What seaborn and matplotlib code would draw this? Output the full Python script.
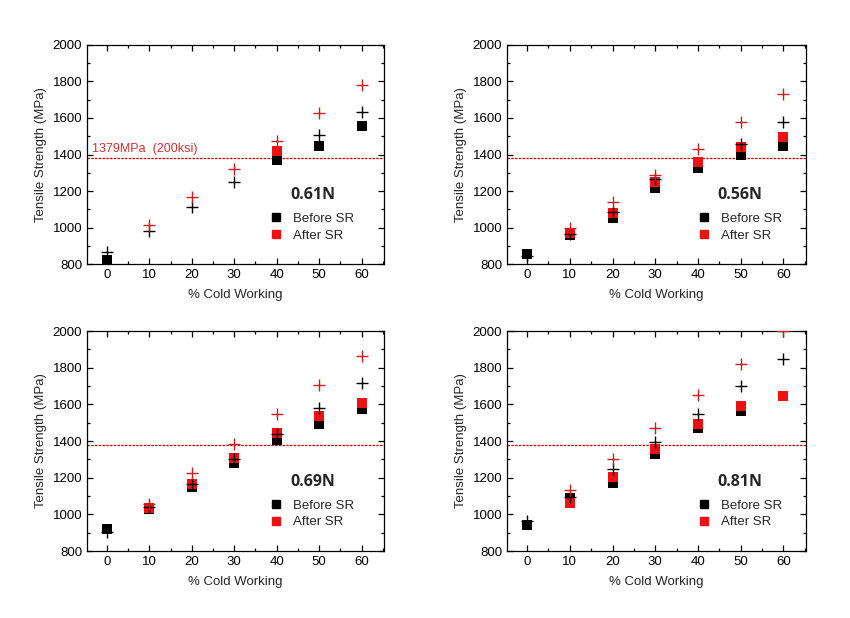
import numpy as np
import pandas as pd
import matplotlib
matplotlib.use("Agg")
import matplotlib.pyplot as plt
import seaborn as sns
from matplotlib.ticker import MultipleLocator
from matplotlib.lines import Line2D

nan = np.nan
cold_work = [0, 10, 20, 30, 40, 50, 60]
panel_names = ["0.61N", "0.56N", "0.69N", "0.81N"]

p1_before_sq = [822, nan, nan, nan, 1370, 1448, 1556]
p1_after_sq = [nan, nan, nan, nan, 1421, nan, nan]
p1_before_plus = [864, 983, 1114, 1249, nan, 1509, 1633]
p1_after_plus = [nan, 1014, 1169, 1321, 1476, 1629, 1783]

p2_before_sq = [857, 959, 1050, 1218, 1326, 1399, 1447]
p2_after_sq = [nan, 972, 1078, 1251, 1359, 1439, 1498]
p2_before_plus = [845, 965, 1084, 1264, nan, 1458, 1580]
p2_after_plus = [nan, 996, 1138, 1288, 1432, 1578, 1730]

p3_before_sq = [920, 1030, 1150, 1282, 1404, 1491, 1577]
p3_after_sq = [nan, 1035, 1168, 1305, 1442, 1537, 1605]
p3_before_plus = [905, 1040, 1165, 1300, 1440, 1579, 1716]
p3_after_plus = [nan, 1055, 1223, 1382, 1546, 1705, 1864]

p4_before_sq = [940, 1090, 1172, 1331, 1473, 1564, 1646]
p4_after_sq = [nan, 1062, 1203, 1356, 1491, 1592, 1646]
p4_before_plus = [962, 1095, 1250, 1396, 1550, 1700, 1849]
p4_after_plus = [nan, 1131, 1300, 1473, 1650, 1820, 2000]

ref_line = 1379
ref_label = "1379MPa  (200ksi)"
x_label = "% Cold Working"
y_label = "Tensile Strength (MPa)"
legend_labels = ["Before SR", "After SR"]

panels = [
    (p1_before_sq, p1_after_sq, p1_before_plus, p1_after_plus),
    (p2_before_sq, p2_after_sq, p2_before_plus, p2_after_plus),
    (p3_before_sq, p3_after_sq, p3_before_plus, p3_after_plus),
    (p4_before_sq, p4_after_sq, p4_before_plus, p4_after_plus),
]

sns.set_theme(style="ticks")
plt.rcParams["font.family"] = ["Liberation Sans", "DejaVu Sans"]

BLACK = "#000000"
RED = "#ee1111"
RED_PLUS = "#cc1f1f"

fig = plt.figure(figsize=(8.5, 6.18), dpi=100)
positions = [
    [0.1024, 0.5728, 0.3494, 0.3544],
    [0.5965, 0.5728, 0.3518, 0.3544],
    [0.1024, 0.1084, 0.3494, 0.3560],
    [0.5965, 0.1084, 0.3518, 0.3560],
]
name_x = [0.683, 0.705, 0.683, 0.705]
leg_x = [0.615, 0.635, 0.615, 0.635]

for i, (bsq, asq, bpl, apl) in enumerate(panels):
    ax = fig.add_axes(positions[i])
    df = pd.DataFrame({"x": cold_work, "bsq": bsq, "asq": asq, "bpl": bpl, "apl": apl})
    sns.scatterplot(data=df, x="x", y="bsq", marker="s", color=BLACK, s=48,
                    edgecolor=BLACK, linewidth=0, ax=ax, zorder=3)
    sns.scatterplot(data=df, x="x", y="asq", marker="s", color=RED, s=48,
                    edgecolor=RED, linewidth=0, ax=ax, zorder=3)
    sns.scatterplot(data=df, x="x", y="bpl", marker="+", color=BLACK, s=85,
                    linewidth=1.0, ax=ax, zorder=4)
    sns.scatterplot(data=df, x="x", y="apl", marker="+", color=RED_PLUS, s=85,
                    linewidth=1.0, ax=ax, zorder=4)
    ax.axhline(ref_line, color="#cc0000", lw=0.9, ls=(0, (2, 1)), zorder=2)
    if i == 0:
        ax.text(-3.5, ref_line + 20, ref_label, color="#cc3333", fontsize=9,
                va="bottom", ha="left")

    ax.set_xlim(-4.7, 65.3)
    ax.set_ylim(800, 2000)
    ax.xaxis.set_major_locator(MultipleLocator(10))
    ax.xaxis.set_minor_locator(MultipleLocator(5))
    ax.yaxis.set_major_locator(MultipleLocator(200))
    ax.yaxis.set_minor_locator(MultipleLocator(100))
    ax.tick_params(which="both", direction="in", top=True, right=True,
                   labeltop=False, labelright=False, colors="black",
                   labelsize=9.5, width=0.9)
    ax.tick_params(which="major", length=4.5)
    ax.tick_params(which="minor", length=2.5)
    for sp in ax.spines.values():
        sp.set_visible(True)
        sp.set_color("black")
        sp.set_linewidth(0.9)
    ax.set_xlabel(x_label, fontsize=9.5, labelpad=6)
    ax.set_ylabel(y_label, fontsize=9.5, labelpad=4)

    ax.text(name_x[i], 0.315, panel_names[i], transform=ax.transAxes,
            fontsize=11.5, fontweight="bold", family=["Open Sans", "DejaVu Sans"],
            va="center", ha="left")
    handles = [Line2D([], [], marker="s", ls="none", color=BLACK, markersize=6),
               Line2D([], [], marker="s", ls="none", color=RED, markersize=6)]
    ax.legend(handles, legend_labels, loc="upper left",
              bbox_to_anchor=(leg_x[i], 0.235), frameon=False, fontsize=9.5,
              handlelength=1.0, handletextpad=0.8, labelspacing=0.35,
              borderaxespad=0, borderpad=0)

fig.savefig("out.png", dpi=100)
